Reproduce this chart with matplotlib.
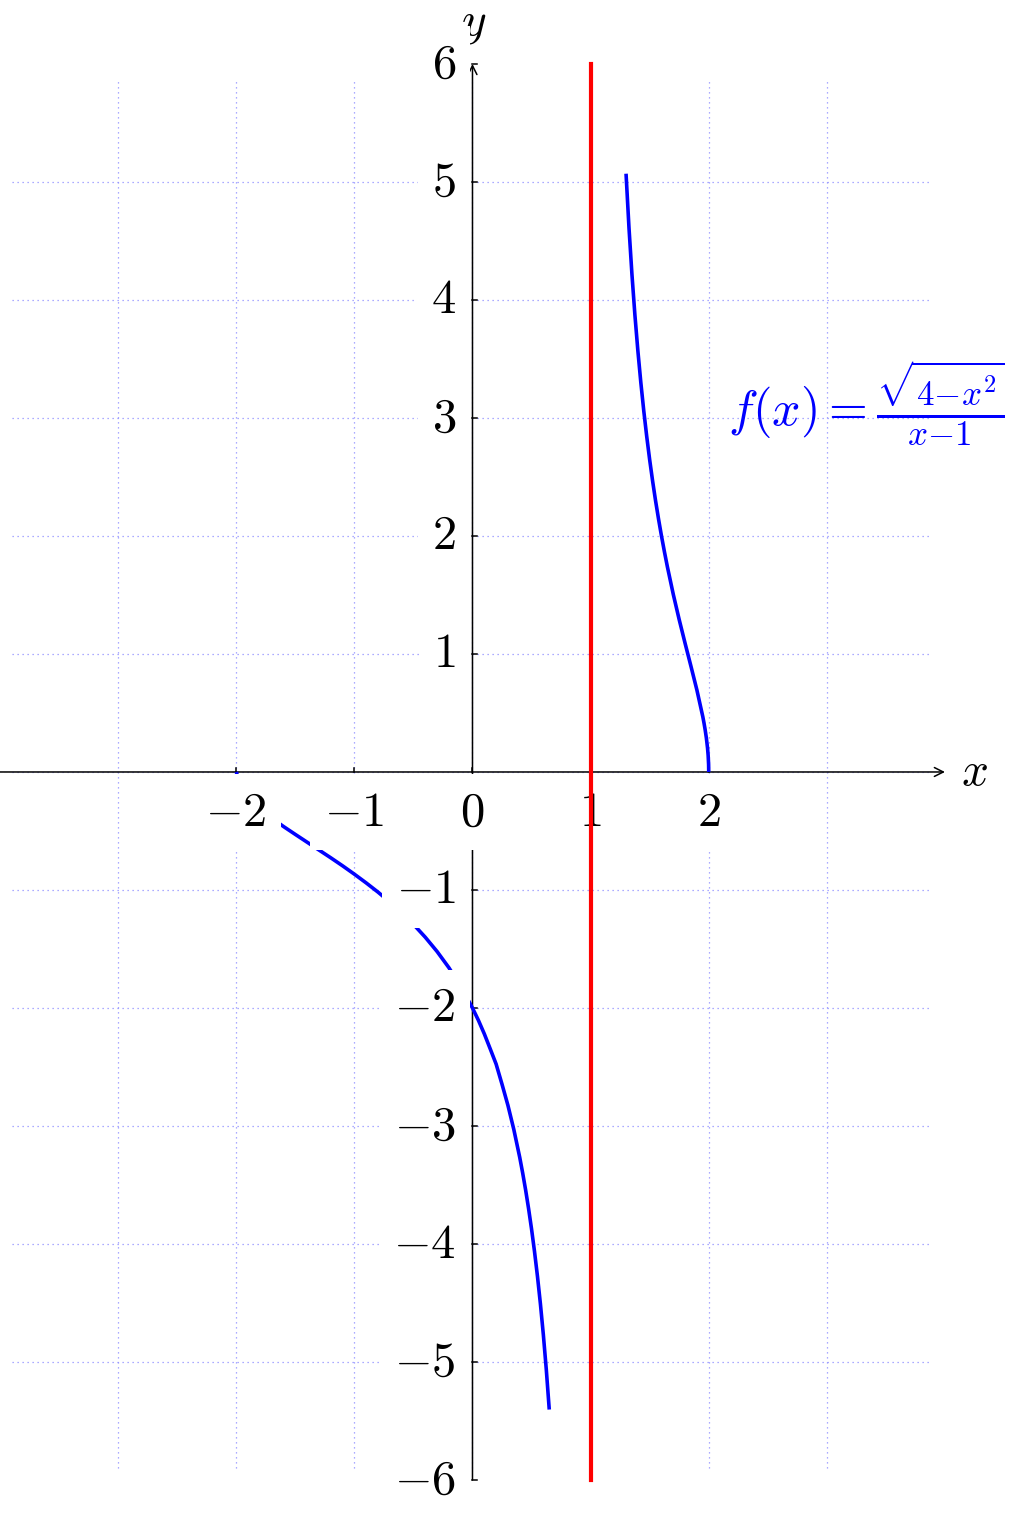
import matplotlib
matplotlib.use("Agg")
import matplotlib.pyplot as plt

plt.rcParams['mathtext.fontset'] = 'cm'
plt.rcParams['font.family'] = ['DejaVu Serif']

# curve f(x) = sqrt(4 - x^2) / (x - 1)
left_x = [-2.0, -1.95, -1.9, -1.8, -1.7, -1.6, -1.5, -1.4, -1.3, -1.2, -1.1,
          -1.0, -0.9, -0.8, -0.7, -0.6, -0.5, -0.4, -0.3, -0.2, -0.1, 0.0,
          0.05, 0.1, 0.15, 0.2, 0.25, 0.3, 0.35, 0.4, 0.425, 0.45, 0.475,
          0.5, 0.525, 0.55, 0.575, 0.6, 0.625, 0.65]
left_y = [0.0, -0.151, -0.214, -0.311, -0.390, -0.462, -0.529, -0.595, -0.661,
          -0.727, -0.795, -0.866, -0.940, -1.018, -1.102, -1.192, -1.291,
          -1.400, -1.521, -1.658, -1.816, -2.0, -2.104, -2.219, -2.346, -2.475,
          -2.646, -2.825, -3.030, -3.266, -3.399, -3.543, -3.701, -3.873,
          -4.063, -4.273, -4.507, -4.770, -5.066, -5.403]
right_x = [1.3, 1.325, 1.35, 1.375, 1.4, 1.425, 1.45, 1.475, 1.5, 1.525, 1.55,
           1.575, 1.6, 1.625, 1.65, 1.7, 1.75, 1.8, 1.85, 1.9, 1.95, 1.96,
           1.97, 1.98, 1.99, 1.995, 1.999, 2.0]
right_y = [5.07, 4.610, 4.216, 3.873, 3.571, 3.302, 3.061, 2.844, 2.646, 2.465,
           2.298, 2.144, 2.0, 1.866, 1.739, 1.505, 1.291, 1.090, 0.894, 0.694,
           0.468, 0.415, 0.356, 0.288, 0.202, 0.142, 0.063, 0.0]

asymptote_x = 1
x_ticks = [-2, -1, 0, 1, 2]
y_ticks = [-6, -5, -4, -3, -2, -1, 1, 2, 3, 4, 5, 6]
grid_x = [-3, -2, -1, 0, 1, 2, 3]
grid_y = [-5, -4, -3, -2, -1, 0, 1, 2, 3, 4, 5]

fig = plt.figure(figsize=(10.26, 15.16), dpi=100)
ax = fig.add_axes([0, 0, 1, 1])
ax.set_xlim(-4.0, 4.686)
ax.set_ylim(-6.305, 6.542)
ax.axis('off')

# dotted grid
gc = '#9090ff'
ax.vlines(grid_x, -5.9, 5.86, colors=gc, linestyles=(0, (1, 3)), lw=0.9, zorder=1)
ax.hlines(grid_y, -3.9, 3.87, colors=gc, linestyles=(0, (1, 3)), lw=0.9, zorder=1)

# axes with arrows
arrow = dict(arrowstyle='->', lw=1.1, color='black', shrinkA=0, shrinkB=0,
             mutation_scale=16)
ax.annotate('', xy=(4.0, 0), xytext=(-4.0, 0), arrowprops=arrow, zorder=2)
ax.annotate('', xy=(0, 6.0), xytext=(0, -6.0), arrowprops=arrow, zorder=2)
ax.text(4.25, 0.0, '$x$', fontsize=34, ha='center', va='center')
ax.text(0.01, 6.34, '$y$', fontsize=34, ha='center', va='center')

# small tick marks
for t in x_ticks:
    ax.plot([t, t], [0, 0.03], color='black', lw=1.1, zorder=2)
for t in y_ticks:
    ax.plot([0, 0.04], [t, t], color='black', lw=1.1, zorder=2)

# function curve
ax.plot(left_x, left_y, color='blue', lw=2.6, zorder=3, solid_capstyle='butt')
ax.plot(right_x, right_y, color='blue', lw=2.6, zorder=3, solid_capstyle='butt')


def lab(t):
    return '$%d$' % t if t >= 0 else r'$-%d$' % -t


# tick labels on white boxes
box = dict(facecolor='white', edgecolor='none', pad=10)
for t in x_ticks:
    ax.text(t, -0.14, lab(t), fontsize=35, ha='center', va='top',
            bbox=box, zorder=4)
for t in y_ticks:
    ax.text(-0.14, t, lab(t), fontsize=35, ha='right', va='center',
            bbox=box, zorder=4)

# vertical asymptote
ax.plot([asymptote_x, asymptote_x], [-6, 6], color='red', lw=3, zorder=5)

ax.text(2.16, 3.12, r'$f(x) = \frac{\sqrt{4{-}x^2}}{x{-}1}$', color='blue',
        fontsize=36, ha='left', va='center', zorder=6)

fig.savefig('out.png', dpi=100)
